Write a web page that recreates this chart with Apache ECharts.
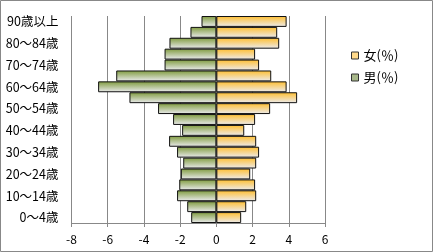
<!DOCTYPE html>
<html><head><meta charset="utf-8">
<script src="https://cdn.jsdelivr.net/npm/echarts@6/dist/echarts.min.js"></script>
<style>html,body{margin:0;padding:0;background:#fff}#c{width:433px;height:252px}</style>
</head><body><div id="c"></div>
<script>
const categories = ['0〜4歳','5〜9歳','10〜14歳','15〜19歳','20〜24歳','25〜29歳','30〜34歳','35〜39歳','40〜44歳','45〜49歳','50〜54歳','55〜59歳','60〜64歳','65〜69歳','70〜74歳','75〜79歳','80〜84歳','85〜89歳','90歳以上'];
const male = [-1.39,-1.61,-2.17,-2.05,-1.96,-1.83,-2.17,-2.61,-1.89,-2.39,-3.22,-4.80,-6.53,-5.53,-2.86,-2.86,-2.59,-1.43,-0.82];
const female = [1.37,1.65,2.20,2.14,1.87,2.20,2.36,2.20,1.54,2.14,2.97,4.46,3.88,3.03,2.36,2.14,3.47,3.36,3.88];
const seriesNames = ['女(％)','男(％)'];
const xMin = -8, xMax = 6, xStep = 2;

const font = '"Noto Sans CJK JP", sans-serif';
const chart = echarts.init(document.getElementById('c'));
function grad(top){
  return new echarts.graphic.LinearGradient(0,0,0,1,[{offset:0,color:top},{offset:1,color:'#ECECF0'}]);
}
chart.setOption({
  animation:false,
  graphic:[{type:'rect',shape:{x:0.5,y:0.5,width:432,height:251},style:{fill:'none',stroke:'#888',lineWidth:1},silent:true}],
  grid:{left:71.5,right:108,top:16,bottom:29},
  legend:{
    left:346, top:44, orient:'vertical', itemGap:9, itemWidth:7, itemHeight:7,
    textStyle:{fontFamily:font,fontSize:13,color:'#000'},
    data:[{name:seriesNames[0],icon:'rect',itemStyle:{color:'#FFD98A',borderColor:'#333',borderWidth:1}},
          {name:seriesNames[1],icon:'rect',itemStyle:{color:'#A8B88A',borderColor:'#333',borderWidth:1}}]
  },
  xAxis:{type:'value',min:xMin,max:xMax,interval:xStep,
    axisLine:{show:true,onZero:false,lineStyle:{color:'#888'}},
    axisTick:{show:true,length:4,lineStyle:{color:'#888'}},
    axisLabel:{fontFamily:font,fontSize:12,color:'#000',margin:10},
    splitLine:{show:true,lineStyle:{color:'#888',width:1}}
  },
  yAxis:{type:'category',data:categories,
    axisLine:{show:false},axisTick:{show:false},
    axisLabel:{interval:1,fontFamily:font,fontSize:12.5,color:'#000',margin:13}
  },
  series:[
    {name:seriesNames[0],type:'bar',data:female,barCategoryGap:0,barGap:'-100%',
     itemStyle:{color:grad('#FFBE2E'),borderColor:'#111',borderWidth:1}},
    {name:seriesNames[1],type:'bar',data:male,barCategoryGap:0,barGap:'-100%',
     itemStyle:{color:grad('#7E9A3C'),borderColor:'#111',borderWidth:1}}
  ]
});
</script></body></html>
